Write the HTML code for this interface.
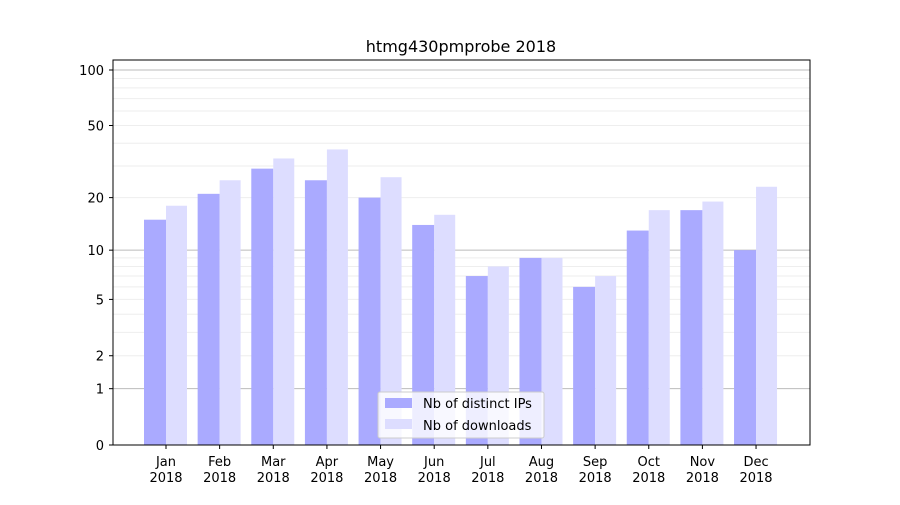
<!DOCTYPE html>
<html><head><meta charset="utf-8"><style>
body{margin:0;background:#fff;font-family:"Liberation Sans","DejaVu Sans",sans-serif;}
svg text{font-family:"DejaVu Sans","Liberation Sans",sans-serif;}
</style></head><body>
<svg id="chart" width="900" height="500" xmlns="http://www.w3.org/2000/svg">
<rect width="900" height="500" fill="#fff"/>
<text x="461" y="52" text-anchor="middle" font-size="16">htmg430pmprobe 2018</text>
<g id="grid"></g><g id="bars"></g><g id="axes"></g>
<rect x="113" y="60" width="697" height="385" fill="none" stroke="#000" stroke-width="1"/>
<g>
<rect x="378" y="392" width="166" height="46" fill="#fff" fill-opacity="0.8" stroke="#ccc" rx="2"/>
<rect x="385" y="398" width="27" height="10" fill="#aaaaff"/>
<text x="423" y="408" font-size="13">Nb of distinct IPs</text>
<rect x="385" y="419" width="27" height="10" fill="#ddddff"/>
<text x="423" y="430" font-size="13">Nb of downloads</text>
</g>
</svg>
<script>
const months=["Jan","Feb","Mar","Apr","May","Jun","Jul","Aug","Sep","Oct","Nov","Dec"];
const ips=[15,21,29,25,20,14,7,9,6,13,17,10];
const downloads=[18,25,33,37,26,16,8,9,7,17,19,23];
const yTicks=[0,1,2,5,10,20,50,100];
const NS="http://www.w3.org/2000/svg";
function y(v){return 445-187.1*Math.log10(1+v);}
function xc(i){return 166+i*53.64;}
function mk(t,a,p){const e=document.createElementNS(NS,t);for(const k in a)e.setAttribute(k,a[k]);p.appendChild(e);return e;}
const grid=document.getElementById('grid'),bars=document.getElementById('bars'),axes=document.getElementById('axes');
for(const d of [1,10]){for(let m=1;m<=9;m++){const v=d*m;const yy=y(v);if(yy<60)continue;
const l=mk('line',{x1:113,x2:810,y1:yy,y2:yy,stroke:m===1?'#bbb':'#eee','stroke-width':1},grid);

}}
{const l=mk('line',{x1:113,x2:810,y1:y(100),y2:y(100),stroke:'#bbb'},grid);

}
months.forEach((m,i)=>{
const b1=mk('rect',{x:xc(i)-22,y:y(ips[i]),width:22,height:445-y(ips[i]),fill:'#aaaaff'},bars);


const b2=mk('rect',{x:xc(i),y:y(downloads[i]),width:21,height:445-y(downloads[i]),fill:'#ddddff'},bars);


mk('line',{x1:xc(i),x2:xc(i),y1:445,y2:449,stroke:'#000'},axes);
const t=mk('text',{x:xc(i),y:466,'text-anchor':'middle','font-size':13},axes);


t.textContent=m;
const t2=mk('text',{x:xc(i),y:482,'text-anchor':'middle','font-size':13},axes);


t2.textContent='2018';
});
yTicks.forEach(v=>{
mk('line',{x1:109,x2:113,y1:y(v),y2:y(v),stroke:'#000'},axes);
const t=mk('text',{x:104,y:y(v)+5,'text-anchor':'end','font-size':13},axes);


t.textContent=v;
});
</script>
</body></html>
